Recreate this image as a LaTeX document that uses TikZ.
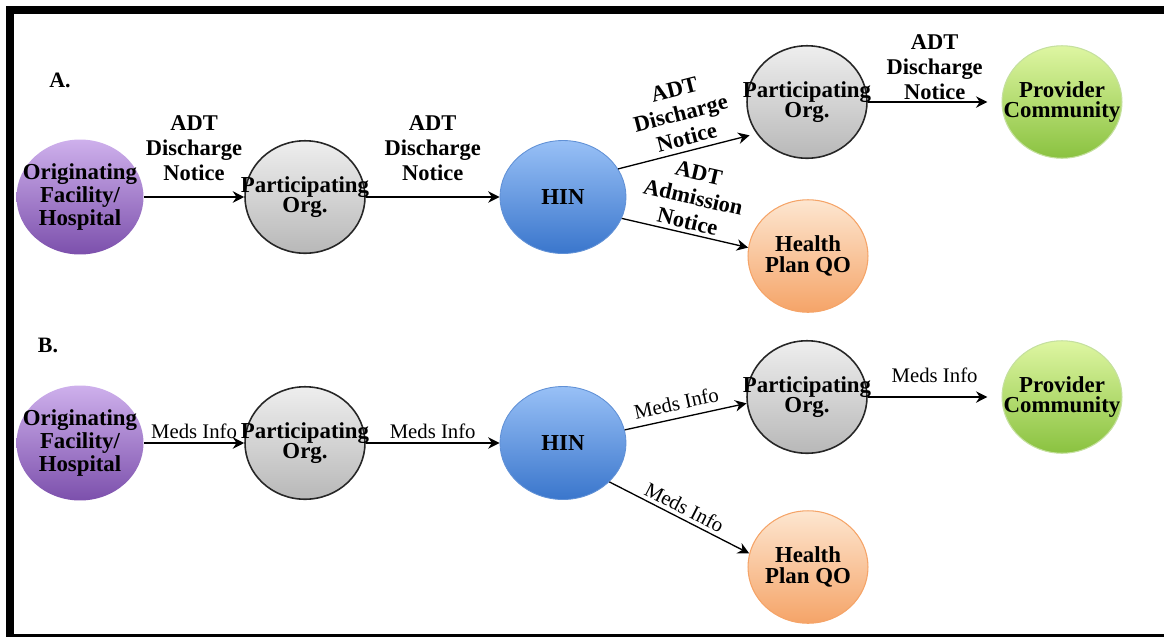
\documentclass[tikz,border=0pt]{standalone}
\usepackage{fontspec}
\setmainfont{Liberation Serif}
\usetikzlibrary{arrows.meta, shapes.geometric, positioning}
\definecolor{origtop}{RGB}{206,176,236}
\definecolor{origbot}{RGB}{124,80,172}
\definecolor{parttop}{RGB}{238,238,238}
\definecolor{partbot}{RGB}{184,184,184}
\definecolor{hintop}{RGB}{152,192,246}
\definecolor{hinbot}{RGB}{58,118,204}
\definecolor{plantop}{RGB}{253,230,208}
\definecolor{planbot}{RGB}{245,164,104}
\definecolor{provtop}{RGB}{222,246,162}
\definecolor{provbot}{RGB}{138,194,64}

\begin{document}
\begin{tikzpicture}[
    x=0.02cm, y=-0.02cm,
    font=\fontsize{12.5pt}{12.5pt}\selectfont\bfseries,
    >={Stealth[length=6.5pt, width=6.5pt]},
    % one flow per arrow, labels ride on it
    flow/.style   ={->, line width=0.75pt},
    tag/.style    ={font=\fontsize{12.8pt}{14.2pt}\selectfont\bfseries, align=center, inner sep=2pt},
    medtag/.style ={font=\fontsize{11.8pt}{13pt}\selectfont\mdseries, inner sep=2pt},
    unit/.style   ={ellipse, inner sep=0pt, minimum width=2.4cm, minimum height=2.25cm,
                    label={[align=center, font=\fontsize{13pt}{11.6pt}\selectfont\bfseries]center:#1}},
    orig/.style   ={unit={#1}, minimum width=2.54cm, minimum height=2.3cm,
                    top color=origtop, bottom color=origbot},
    part/.style   ={unit={#1}, draw=black!85, line width=0.9pt,
                    top color=parttop, bottom color=partbot},
    hin/.style    ={unit={#1}, minimum width=2.52cm, minimum height=2.26cm, draw=hinbot!80, line width=0.5pt,
                    top color=hintop, bottom color=hinbot},
    plan/.style   ={unit={#1}, draw=planbot, line width=0.6pt,
                    top color=plantop, bottom color=planbot},
    prov/.style   ={unit={#1}, draw=provbot!50, line width=0.6pt,
                    top color=provtop, bottom color=provbot}
  ]
  \useasboundingbox (0,0) rectangle (1164,637);

  %% frame
  \fill (6,6) rectangle (14,637);
  \fill (6,6) rectangle (1164,14);
  \fill (6,634) rectangle (1164,637);

  %% ===== A: discharge / admission notices =====
  \node (capA) at (60,80) {A.};
  \node[orig={Originating\\Facility/\\Hospital}] (origA) at (80,197) {};
  \node[part={Participating\\Org.}] (partA) at (305,197) {};
  \node[hin={HIN}] (hinA) at (563,197) {};
  \node[part={Participating\\Org.}] (partAup) at (807,102) {};
  \node[prov={Provider\\Community}] (provA) at (1062,102) {};
  \node[plan={Health\\Plan QO}] (planA) at (808,256) {};

  \draw[flow] (origA) -- node[tag, above=7pt] {ADT\\Discharge\\Notice} (partA);
  \draw[flow] (partA) -- node[tag, above=7pt] {ADT\\Discharge\\Notice} (hinA);
  \draw[flow, shorten >=4pt] (hinA.27) -- node[tag, sloped, above=1pt, pos=0.52] {ADT\\Discharge\\Notice} (partAup.212);
  \draw[flow] (hinA.-20) -- node[tag, sloped, above=0pt] {ADT\\Admission\\Notice} (planA.172);
  \draw[flow, shorten >=8pt] (partAup) -- node[tag, above=-1pt] {ADT\\Discharge\\Notice} (provA);

  %% ===== B: medication info =====
  \node (capB) at (48,345) {B.};
  \node[orig={Originating\\Facility/\\Hospital}] (origB) at (80,443) {};
  \node[part={Participating\\Org.}] (partB) at (305,443) {};
  \node[hin={HIN}] (hinB) at (563,443) {};
  \node[part={Participating\\Org.}] (partBup) at (807,397) {};
  \node[prov={Provider\\Community}] (provB) at (1062,397) {};
  \node[plan={Health\\Plan QO}] (planB) at (808,567) {};

  \draw[flow] (origB) -- node[medtag, above] {Meds Info} (partB);
  \draw[flow] (partB) -- node[medtag, above] {Meds Info} (hinB);
  \draw[flow] (hinB.12) -- node[medtag, sloped, above=2pt, pos=0.45] {Meds Info} (partBup.186);
  \draw[flow] (hinB.-40) -- node[medtag, sloped, above=0pt] {Meds Info} (planB.167);
  \draw[flow, shorten >=8pt] (partBup) -- node[medtag, above=6pt] {Meds Info} (provB);
\end{tikzpicture}
\end{document}
